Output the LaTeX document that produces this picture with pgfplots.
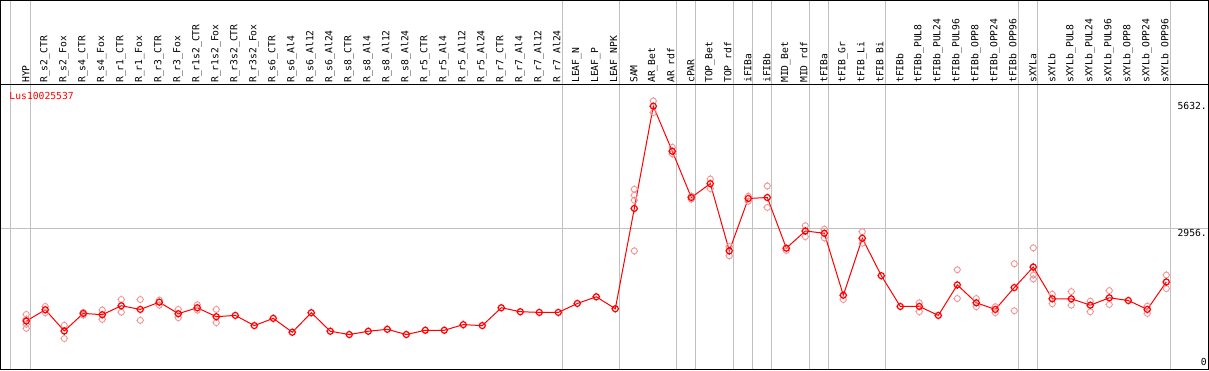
\documentclass[border=0pt]{standalone}
\usepackage{pgfplots}
\usepackage{pgfplotstable}
\pgfplotsset{compat=1.18}
\usepackage{fontspec}
\newfontfamily\monofont{DejaVu Sans Mono}
\newcommand\lab{\monofont\fontsize{9.7}{12}\selectfont}
\definecolor{meanred}{RGB}{255,0,0}
\definecolor{repred}{RGB}{240,150,150}
\definecolor{gridgray}{RGB}{192,192,192}

\pgfdeclareplotmark{oticks}{%
  \pgfpathcircle{\pgfpointorigin}{\pgfplotmarksize}%
  \pgfpathmoveto{\pgfpoint{0pt}{\pgfplotmarksize}}\pgfpathlineto{\pgfpoint{0pt}{1.3\pgfplotmarksize}}%
  \pgfpathmoveto{\pgfpoint{0pt}{-\pgfplotmarksize}}\pgfpathlineto{\pgfpoint{0pt}{-1.3\pgfplotmarksize}}%
  \pgfpathmoveto{\pgfpoint{\pgfplotmarksize}{0pt}}\pgfpathlineto{\pgfpoint{1.3\pgfplotmarksize}{0pt}}%
  \pgfpathmoveto{\pgfpoint{-\pgfplotmarksize}{0pt}}\pgfpathlineto{\pgfpoint{-1.3\pgfplotmarksize}{0pt}}%
  \pgfusepathqstroke}

\pgfplotstableread{
x y
1 1008
2 1245
3 799
4 1168
5 1141
6 1329
7 1252
8 1404
9 1162
10 1287
11 1099
12 1126
13 912
14 1064
15 772
16 1183
17 793
18 724
19 793
20 834
21 724
22 814
23 814
24 932
25 912
26 1287
27 1204
28 1189
29 1189
30 1377
31 1517
32 1266
33 3373
34 5522
35 4575
36 3603
37 3895
38 2482
39 3582
40 3603
41 2539
42 2900
43 2852
44 1550
45 2747
46 1961
47 1314
48 1314
49 1126
50 1767
51 1391
52 1252
53 1711
54 2142
55 1475
56 1475
57 1341
58 1496
59 1439
60 1252
61 1829
}\meantable

\pgfplotstableread{
x y
1 1147
1 1043
1 939
1 855
2 1314
2 1183
3 918
3 640
4 1189
4 1133
5 1237
5 1043
6 1460
6 1195
7 1460
7 1022
8 1446
8 1341
9 1252
9 1078
10 1350
10 1237
11 1252
11 974
33 3776
33 3650
33 3546
33 2482
34 5632
34 5388
35 4658
35 4520
36 3630
36 3567
37 3991
37 3790
38 2572
38 2378
39 3630
39 3525
40 3845
40 3394
41 2489
42 3010
42 2781
43 2935
43 2754
44 1460
45 2885
45 2643
48 1391
48 1204
50 2086
50 1481
51 1481
51 1308
52 1308
52 1183
53 2211
53 1224
54 2545
54 1975
54 1892
55 1571
55 1371
56 1627
56 1341
57 1425
57 1204
58 1648
58 1356
60 1320
60 1168
61 1975
61 1690
}\reptable

\begin{document}
\begin{tikzpicture}
\path[use as bounding box] (-1pt,-1pt) rectangle (1208pt,369pt);
\begin{axis}[
  at={(0pt,0pt)}, anchor=south west,
  scale only axis, width=1207pt, height=368.5pt,
  xmin=-0.3316, xmax=63.195, ymin=0, ymax=7742,
  axis line style={line width=1pt},
  major tick length=0pt, minor tick length=0pt,
  xtick={1,...,61},
  xticklabels={HYP, R\_s2\_CTR, R\_s2\_Fox, R\_s4\_CTR, R\_s4\_Fox, R\_r1\_CTR, R\_r1\_Fox, R\_r3\_CTR, R\_r3\_Fox, R\_r1s2\_CTR, R\_r1s2\_Fox, R\_r3s2\_CTR, R\_r3s2\_Fox, R\_s6\_CTR, R\_s6\_Al4, R\_s6\_Al12, R\_s6\_Al24, R\_s8\_CTR, R\_s8\_Al4, R\_s8\_Al12, R\_s8\_Al24, R\_r5\_CTR, R\_r5\_Al4, R\_r5\_Al12, R\_r5\_Al24, R\_r7\_CTR, R\_r7\_Al4, R\_r7\_Al12, R\_r7\_Al24, LEAF\_N, LEAF\_P, LEAF\_NPK, SAM, AR\_Bet, AR\_rdf, cPAR, TOP\_Bet, TOP\_rdf, iFIBa, iFIBb, MID\_Bet, MID\_rdf, tFIBa, tFIB\_Gr, tFIB\_Li, tFIB\_Bi, tFIBb, tFIBb\_PUL8, tFIBb\_PUL24, tFIBb\_PUL96, tFIBb\_OPP8, tFIBb\_OPP24, tFIBb\_OPP96, sXYLa, sXYLb, sXYLb\_PUL8, sXYLb\_PUL24, sXYLb\_PUL96, sXYLb\_OPP8, sXYLb\_OPP24, sXYLb\_OPP96},
  xticklabel pos=upper,
  xticklabel style={font=\lab, inner sep=0pt, yshift=-82.5pt, xshift=-0.5pt, rotate=90, anchor=west},
  extra x ticks={0.15,1.22,29.22,32.22,35.22,36.22,38.22,39.22,40.22,42.22,43.22,46.22,53.22,54.22,61.22},
  extra x tick labels={},
  extra x tick style={grid=major, major grid style={gridgray, line width=1pt}},
  yticklabel pos=right,
  ytick={2956,5632}, yticklabels={2956.,5632.},
  minor ytick={2956}, yminorgrids=true, minor grid style={gridgray, line width=1pt},
  yticklabel style={font=\lab, anchor=north east, inner sep=1pt},
  extra y ticks={0}, extra y tick labels={0},
  extra y tick style={yticklabel style={anchor=south east, yshift=2pt}},
  clip=false,
]
\addplot[only marks, mark=oticks, mark size=3pt, color=repred, mark options={line width=0.9pt}] table[x=x,y=y]{\reptable};
\addplot[meanred, line width=1pt, mark=oticks, mark size=3pt, mark options={line width=1.2pt}] table[x=x,y=y]{\meantable};
\draw[line width=1pt] (axis cs:-0.3316,5967) -- (axis cs:63.195,5967);
\node[anchor=west, inner sep=0pt, text=meanred, font=\lab] at (axis cs:0.105,5736) {Lus10025537};
\end{axis}
\end{tikzpicture}
\end{document}
